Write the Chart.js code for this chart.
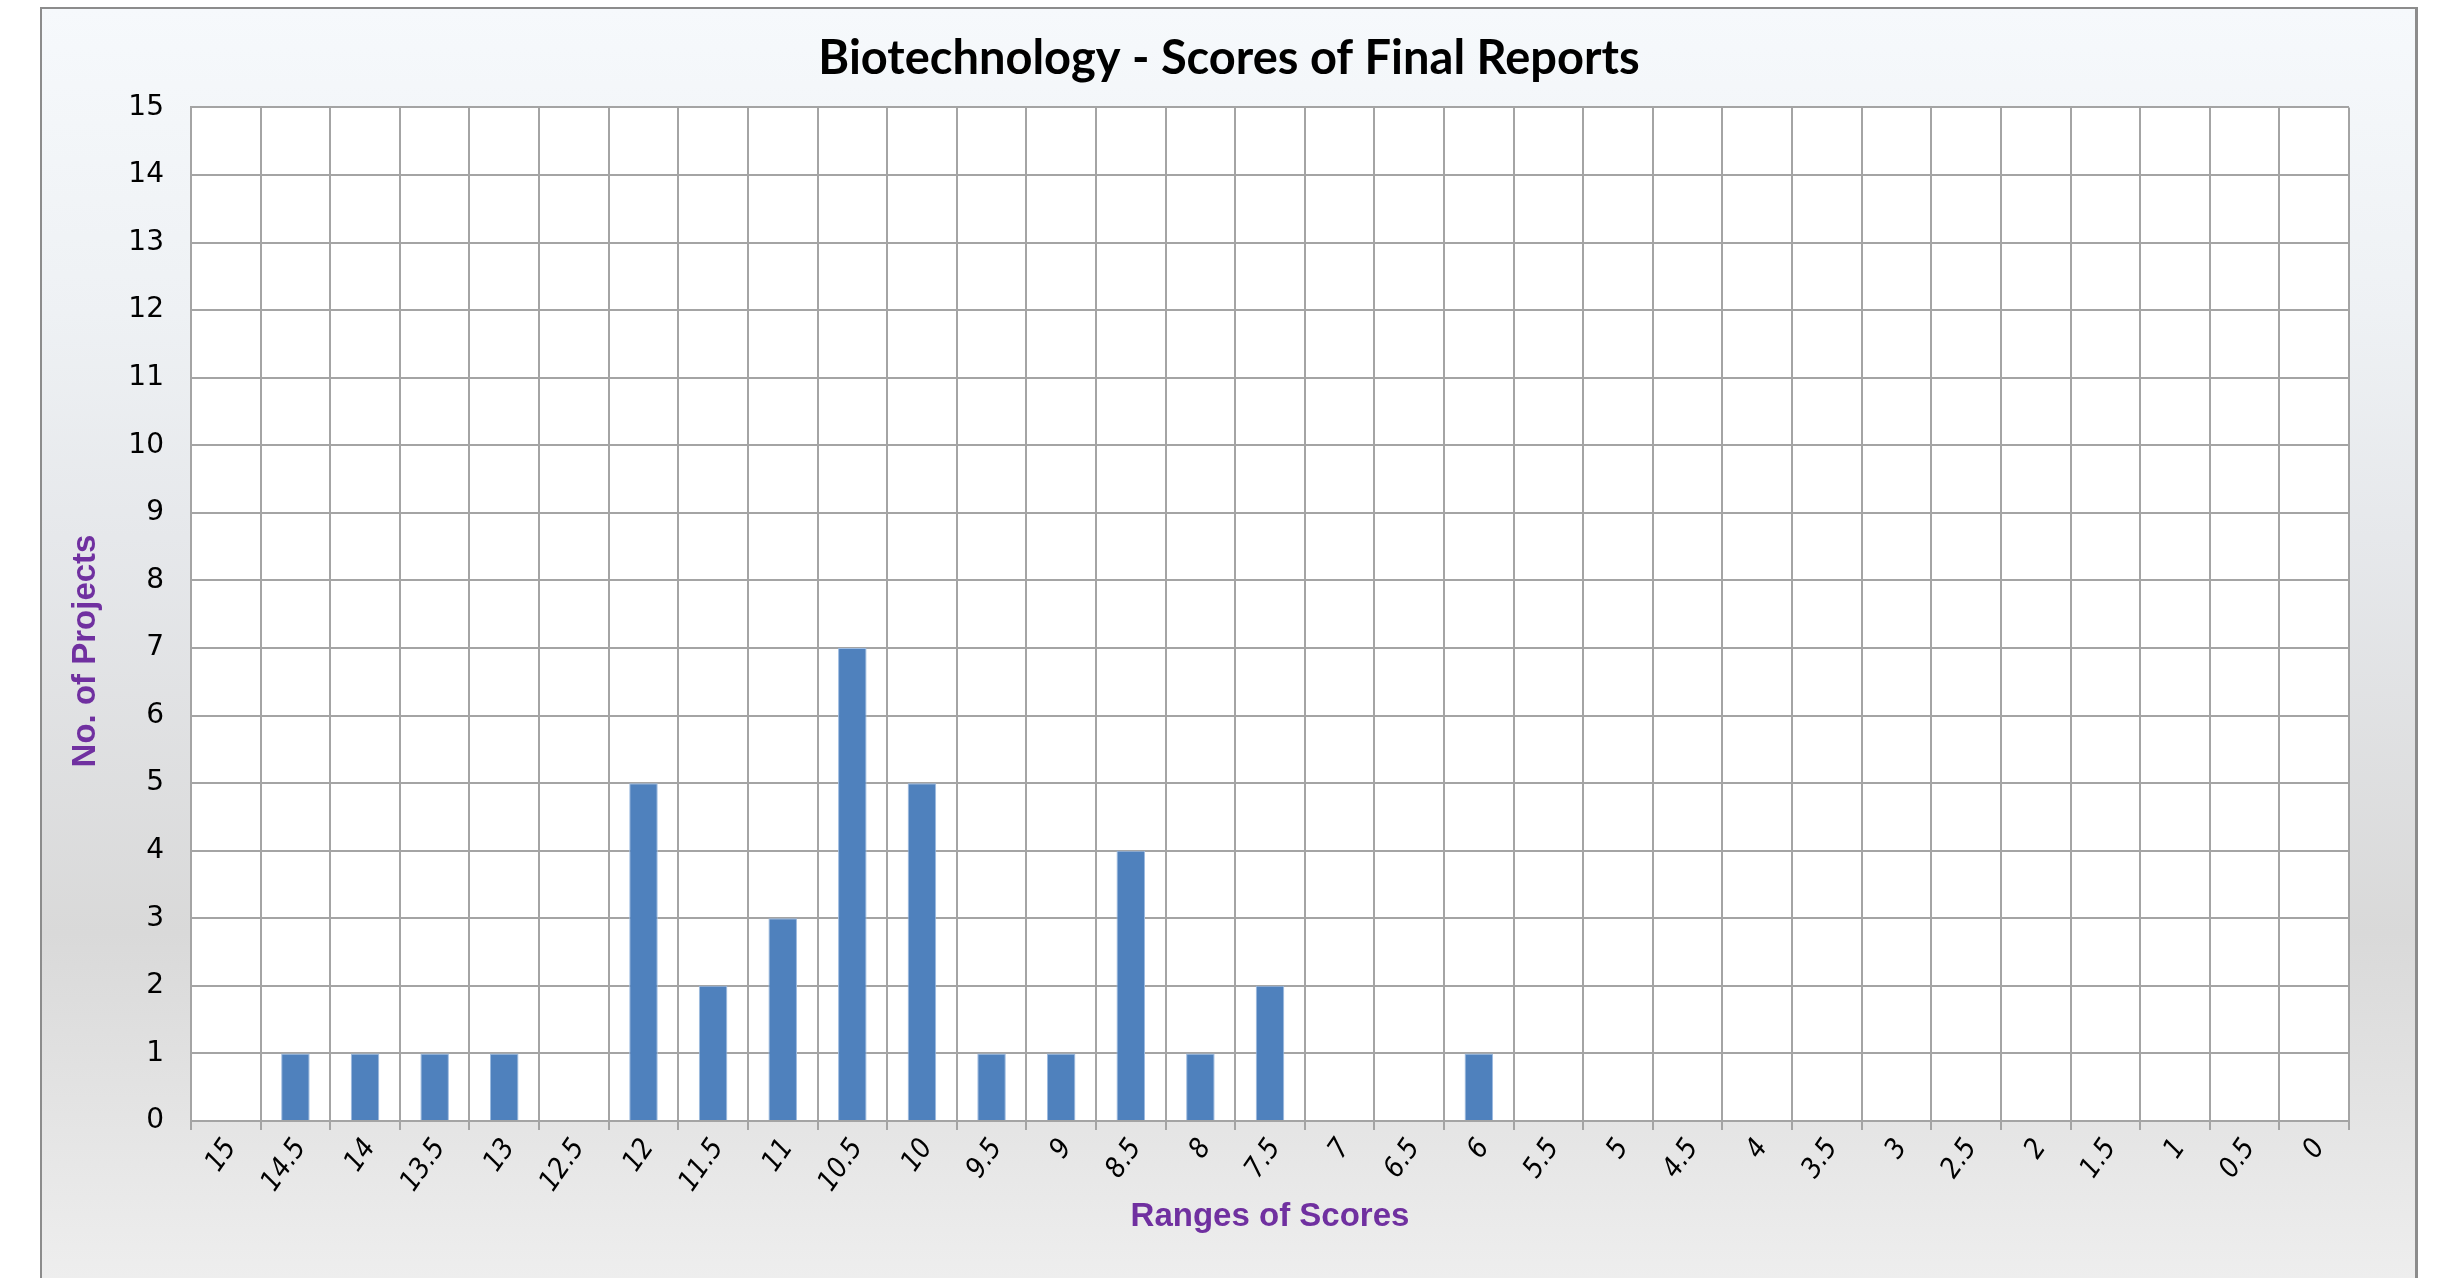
<!DOCTYPE html>
<html>
<head>
<meta charset="utf-8">
<title>Biotechnology - Scores of Final Reports</title>
<script src="https://cdn.jsdelivr.net/npm/chart.js@4.4.1/dist/chart.umd.min.js"></script>
<style>
  html, body { margin: 0; padding: 0; background: #ffffff; overflow: hidden; }
  body { width: 2438px; height: 1278px; position: relative; }
  #frame {
    position: absolute; left: 40px; top: 7px; width: 2373px; height: 1320px;
    border-left: 2px solid #8c8c8c; border-top: 2px solid #8c8c8c; border-right: 3px solid #8c8c8c;
    background: linear-gradient(to bottom, #f6f9fc 0%, #eef1f4 23%, #e6e8eb 40%, #d9d9d9 70%, #f1f1f1 100%);
  }
  #wrap { position: absolute; left: 40px; top: 0; width: 2378px; height: 1278px; }
</style>
</head>
<body>
<div id="frame"></div>
<div id="wrap"><canvas id="scoresChart"></canvas></div>
<script>
// score ranges, highest first, and the number of projects in each
const scoreRanges = ['15', '14.5', '14', '13.5', '13', '12.5', '12', '11.5', '11', '10.5',
                     '10', '9.5', '9', '8.5', '8', '7.5', '7', '6.5', '6', '5.5',
                     '5', '4.5', '4', '3.5', '3', '2.5', '2', '1.5', '1', '0.5', '0'];
const projectCounts = [0, 1, 1, 1, 1, 0, 5, 2, 3, 7,
                       5, 1, 1, 4, 1, 2, 0, 0, 1, 0,
                       0, 0, 0, 0, 0, 0, 0, 0, 0, 0, 0];
const yMin = 0;
const yMax = 15;

const purple = '#7030A0';
const gridColor = '#a4a4a4';
const tickFont = '"DejaVu Sans Condensed", "DejaVu Sans", Verdana, sans-serif';

// white plot area on top of the gradient frame
const plotBackground = {
    id: 'plotBackground',
    beforeDraw(chart) {
        const { ctx, chartArea } = chart;
        ctx.save();
        ctx.fillStyle = '#ffffff';
        ctx.fillRect(chartArea.left, chartArea.top, chartArea.width, chartArea.height);
        ctx.restore();
    }
};

// y axis title sits a bit below the middle of the axis
const yTitlePlugin = {
    id: 'yTitle',
    afterDraw(chart) {
        const ctx = chart.ctx;
        ctx.save();
        ctx.translate(46, 651);
        ctx.rotate(-Math.PI / 2);
        ctx.font = 'bold 33px "Liberation Sans", Arial, sans-serif';
        ctx.fillStyle = purple;
        ctx.textAlign = 'center';
        ctx.textBaseline = 'middle';
        ctx.fillText('No. of Projects', 0, 0);
        ctx.restore();
    }
};

const ctx = document.getElementById('scoresChart').getContext('2d');
new Chart(ctx, {
    type: 'bar',
    data: {
        labels: scoreRanges,
        datasets: [{
            label: 'No. of Projects',
            data: projectCounts,
            backgroundColor: '#4f81bd',
            borderColor: '#9dbbe0',
            borderWidth: 1,
            barPercentage: 0.41,
            categoryPercentage: 1.0
        }]
    },
    options: {
        responsive: true,
        maintainAspectRatio: false,
        animation: false,
        layout: { padding: { left: 69, right: 69, top: 0, bottom: 0 } },
        plugins: {
            legend: { display: false },
            tooltip: { enabled: false },
            title: {
                display: true,
                text: 'Biotechnology - Scores of Final Reports',
                color: '#000000',
                font: { family: 'Lato, "Open Sans", sans-serif', size: 47, weight: 'bold', lineHeight: 1.2 },
                padding: { top: 31, bottom: 20 }
            }
        },
        scales: {
            x: {
                grid: { color: gridColor, lineWidth: 2, offset: true, drawTicks: true, tickLength: 9 },
                border: { color: gridColor, width: 2 },
                ticks: {
                    color: '#000000',
                    font: { family: tickFont, size: 28, style: 'italic' },
                    minRotation: 55,
                    maxRotation: 55,
                    autoSkip: false,
                    labelOffset: 5,
                    padding: 3
                },
                title: {
                    display: true,
                    text: 'Ranges of Scores',
                    color: purple,
                    font: { family: '"Liberation Sans", Arial, sans-serif', size: 33, weight: 'bold', lineHeight: 1.2 },
                    padding: { top: 0, bottom: 41 }
                },
                afterFit(scale) { scale.height = 157; }
            },
            y: {
                min: yMin,
                max: yMax,
                grid: { color: gridColor, lineWidth: 2, drawTicks: false },
                border: { color: gridColor, width: 2 },
                ticks: {
                    stepSize: 1,
                    color: '#000000',
                    font: { family: '"DejaVu Sans", Verdana, sans-serif', size: 28 },
                    padding: 27
                },
                afterFit(scale) { scale.width = 82; }
            }
        }
    },
    plugins: [plotBackground, yTitlePlugin]
});
</script>
</body>
</html>
